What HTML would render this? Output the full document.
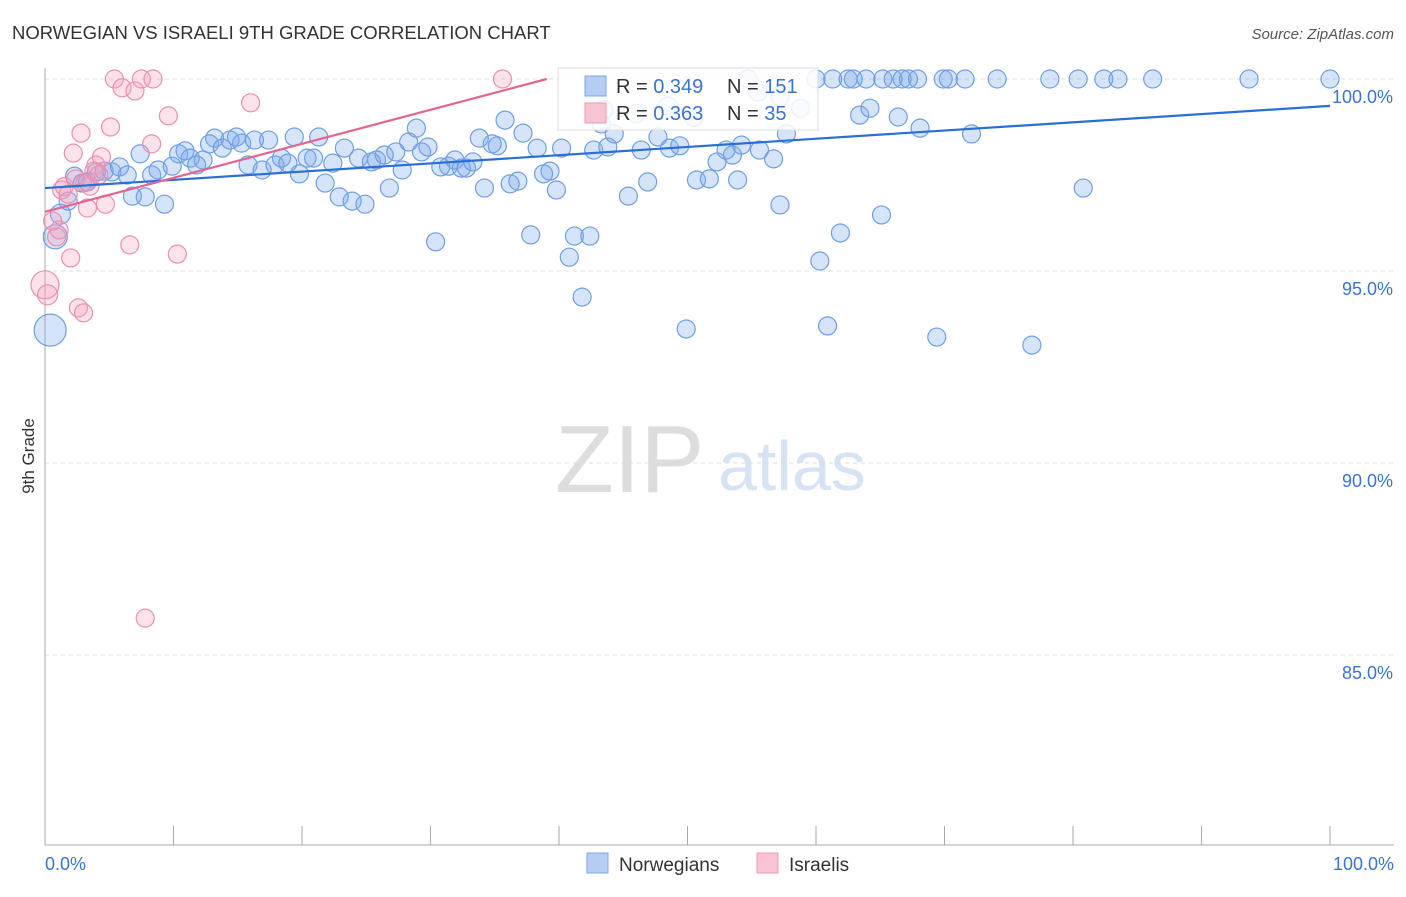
<!DOCTYPE html>
<html><head><meta charset="utf-8"><style>
body{margin:0;background:#fff;font-family:"Liberation Sans",sans-serif}
svg text{font-family:"Liberation Sans",sans-serif}
</style></head><body>
<svg id="chart" width="1406" height="892">
<text x="12" y="39" font-size="18.5" fill="#333">NORWEGIAN VS ISRAELI 9TH GRADE CORRELATION CHART</text>
<text x="1394" y="39" font-size="15" fill="#555" font-style="italic" text-anchor="end">Source: ZipAtlas.com</text>
<text x="555" y="492" font-size="96" fill="#ddd" font-family="Liberation Serif">ZIP</text>
<text x="718" y="490" font-size="70" fill="#d6e3f5">atlas</text>
<text transform="translate(34,456) rotate(-90)" font-size="17" fill="#333" text-anchor="middle">9th Grade</text>
<g id="grid"></g><g id="axes"></g><g id="pts"></g><g id="trend"></g>
<g>
<rect x="558" y="68" width="260" height="62" fill="#fff" fill-opacity="0.85" stroke="#ddd"/>
<rect x="585" y="76" width="21" height="20" fill="#b5cdf3" stroke="#7fa6e6"/>
<rect x="585" y="103" width="21" height="20" fill="#f8c3d3" stroke="#ee9ab4"/>
<text x="616" y="93" font-size="20" fill="#333">R = <tspan fill="#3b73d1">0.349</tspan></text>
<text x="727" y="93" font-size="20" fill="#333">N = <tspan fill="#3b73d1">151</tspan></text>
<text x="616" y="120" font-size="20" fill="#333">R = <tspan fill="#3b73d1">0.363</tspan></text>
<text x="727" y="120" font-size="20" fill="#333">N = <tspan fill="#3b73d1"> 35</tspan></text>
</g>
<g>
<rect x="587" y="853" width="21" height="20" fill="#b5cdf3" stroke="#7fa6e6"/>
<text x="619" y="871" font-size="19" fill="#333">Norwegians</text>
<rect x="757" y="853" width="21" height="20" fill="#f8c3d3" stroke="#ee9ab4"/>
<text x="789" y="871" font-size="19" fill="#333">Israelis</text>
</g>
</svg>
<script>
const yTicks=[100,95,90,85];
const yTickLabels=["100.0%","95.0%","90.0%","85.0%"];
const xTickVals=[0,10,20,30,40,50,60,70,80,90,100];
const xEndLabels=["0.0%","100.0%"];
const blueX=[0.4,0.8,1.2,1.8,2.3,2.9,3.3,4.0,4.6,5.2,5.8,6.4,6.8,7.4,7.8,8.3,8.8,9.3,9.9,10.4,10.9,11.3,11.8,12.3,12.8,13.2,13.8,14.4,14.9,15.3,15.8,16.3,16.9,17.4,17.9,18.4,18.9,19.4,19.8,20.4,20.9,21.3,21.8,22.4,22.9,23.3,23.9,24.4,24.9,25.4,25.8,26.4,26.8,27.3,27.8,28.3,28.9,29.3,29.8,30.4,30.8,31.4,31.9,32.4,32.8,33.3,33.8,34.2,34.8,35.2,35.8,36.2,36.8,37.2,37.8,38.3,38.8,39.3,39.8,40.2,40.8,41.2,41.8,42.4,42.7,43.3,43.8,44.3,45.4,46.4,46.9,47.7,48.6,49.4,49.9,50.7,51.7,52.3,53.0,53.5,53.9,54.2,55.6,56.7,57.2,57.7,60.3,60.9,61.9,63.4,64.2,65.1,66.4,68.1,69.4,72.1,76.8,80.8,57.2,58.8,55.5,54.7,60.0,61.3,62.5,62.9,63.9,65.2,66.0,66.7,67.2,67.9,69.9,70.3,71.6,74.1,78.2,80.4,82.4,83.5,86.2,93.7,100,43.5,46.0,48.5,50.5];
const blueY=[93.46,95.89,96.48,96.82,97.47,97.29,97.32,97.58,97.60,97.58,97.71,97.50,96.95,98.05,96.93,97.50,97.63,96.74,97.73,98.05,98.13,97.94,97.76,97.89,98.31,98.46,98.20,98.41,98.49,98.33,97.76,98.41,97.63,98.41,97.76,97.94,97.81,98.49,97.53,97.94,97.94,98.49,97.29,97.81,96.93,98.20,96.82,97.94,96.74,97.84,97.89,98.02,97.16,98.10,97.63,98.36,98.72,98.10,98.23,95.76,97.71,97.73,97.89,97.68,97.68,97.84,98.46,97.16,98.31,98.26,98.93,97.27,97.34,98.59,95.94,98.20,97.53,97.60,97.11,98.20,95.36,95.91,94.32,95.91,98.15,98.83,98.23,98.57,96.95,98.15,97.32,98.49,98.20,98.26,93.49,97.37,97.40,97.84,98.15,98.02,97.37,98.28,98.15,97.92,96.72,98.57,95.26,93.57,95.99,99.06,99.24,96.46,99.01,98.72,93.28,98.57,93.07,97.16,99.53,99.24,99.66,100,100,100,100,100,100,100,100,100,100,100,100,100,100,100,100,100,100,100,100,100,100,99.2,99.1,99.3,99.0];
const blueR=[16,12,10,9];
const pinkX=[0,0.2,0.9,1.1,1.3,2.0,2.2,2.6,3.0,2.8,3.3,3.5,3.97,4.4,4.7,5.1,5.4,6.0,6.6,7.0,7.5,7.8,8.3,8.4,9.6,10.3,16.0,35.6,1.5,1.8,3.8,4.2,0.6,2.4,3.1];
const pinkY=[94.64,94.38,95.89,96.07,97.11,95.34,98.07,94.04,93.91,98.59,96.64,97.21,97.76,97.97,96.74,98.75,100,99.77,95.68,99.69,100,85.96,98.31,100,99.04,95.44,99.38,100,97.2,97.0,97.6,97.5,96.3,97.4,97.3];
const pinkR=[14,10,9,9];
const blueTrend=[97.16,99.30];
const pinkTrend=[96.54,105.4];
const X=v=>45+v*12.85, Y=v=>79+(100-v)*38.4;
const NS="http://www.w3.org/2000/svg";
function mk(t,a,p){const e=document.createElementNS(NS,t);for(const k in a)e.setAttribute(k,a[k]);p.appendChild(e);return e;}
const grid=document.getElementById('grid'),axes=document.getElementById('axes');
yTicks.forEach((v,i)=>{
 const l=mk('line',{x1:45,x2:1394,y1:Y(v),y2:Y(v),stroke:'#ddd','stroke-dasharray':'4,4'},grid);
 
 
 const t=mk('text',{x:1393,y:Y(v)+24,'font-size':18,fill:'#3b73d1','text-anchor':'end'},grid);t.textContent=yTickLabels[i];
 
 
});
const ax=mk('line',{x1:45,x2:1394,y1:845,y2:845,stroke:'#aaa'},axes);


const ay=mk('line',{x1:45,x2:45,y1:68,y2:845,stroke:'#aaa'},axes);


xTickVals.forEach(v=>{const t=mk('line',{x1:X(v),x2:X(v),y1:826,y2:845,stroke:'#aaa'},axes);
 
 });
[[0,'start',45],[100,'end',1394]].forEach((d,i)=>{const t=mk('text',{x:d[2],y:870,'font-size':18,fill:'#3b73d1','text-anchor':d[1]},axes);t.textContent=xEndLabels[i];
 
 });
const pts=document.getElementById('pts');
blueX.forEach((x,i)=>{const c=mk('circle',{cx:X(x),cy:Y(blueY[i]),r:blueR[i]||9,fill:'rgba(120,165,235,0.3)',stroke:'#6f9fe3','stroke-width':1.2},pts);
 
 });
pinkX.forEach((x,i)=>{const c=mk('circle',{cx:X(x),cy:Y(pinkY[i]),r:pinkR[i]||9,fill:'rgba(245,160,190,0.3)',stroke:'#eb8fae','stroke-width':1.2},pts);
 
 });
const tr=document.getElementById('trend');
const bl=mk('line',{x1:X(0),y1:Y(blueTrend[0]),x2:X(100),y2:Y(blueTrend[1]),stroke:'#2a6fd6','stroke-width':2.2},tr);


const xe=(100-pinkTrend[0])/(pinkTrend[1]-pinkTrend[0])*100;
const pl=mk('line',{x1:X(0),y1:Y(pinkTrend[0]),x2:X(xe),y2:Y(100),stroke:'#e4648f','stroke-width':2.2},tr);


</script>
</body></html>
